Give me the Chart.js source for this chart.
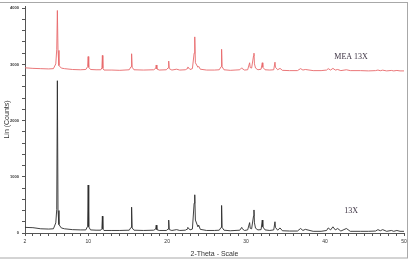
<!DOCTYPE html>
<html lang="en">
<head>
<meta charset="UTF-8">
<title>XRD 13X / MEA 13X</title>
<script src="https://cdn.jsdelivr.net/npm/chart.js"></script>
<style>
  body { margin: 0; background: #fff; }
</style>
</head>
<body>
<canvas id="xrdChart" width="412" height="261"></canvas>
<script>
// 2-theta positions (deg)
const twoTheta = [
  2.0, 3.0, 4.0, 5.0, 5.6, 5.9, 6.02, 6.1, 6.18, 6.3, 6.6, 7.0,
  8.0, 9.0, 9.7, 9.93, 10.0, 10.07, 10.3, 11.0, 11.6, 11.74, 11.8, 11.86, 12.0,
  13.0, 14.0, 15.2, 15.43, 15.5, 15.57, 15.8, 17.0, 18.3, 18.55, 18.62, 18.7, 19.0,
  19.9, 20.13, 20.2, 20.27, 20.6, 21.2, 21.6, 22.3, 22.55, 22.62, 22.9,
  23.2, 23.42, 23.5, 23.58, 23.9, 24.0, 24.2, 25.0, 26.0, 26.6, 26.84, 26.9, 26.96, 27.2,
  28.0, 29.2, 29.45, 29.52, 29.8, 30.2, 30.45, 30.52, 30.7, 30.94, 31.0, 31.06, 31.2, 31.5,
  31.9, 32.05, 32.12, 32.4, 33.0, 33.5, 33.66, 33.72, 34.0, 34.3, 34.6, 35.5,
  36.5, 36.9, 37.2, 37.5, 38.5, 39.5, 40.2, 40.4, 40.7, 41.0, 41.3, 41.6, 42.0,
  42.7, 43.2, 44.5, 45.5, 46.4, 46.7, 47.0, 47.3, 47.8, 48.4, 48.7, 49.1, 49.5, 50.0
];

// Lin (Counts) - 13X
const counts13X = [
  100, 95, 75, 70, 75, 180, 420, 2710, 400, 150, 90, 75,
  60, 55, 55, 120, 854, 110, 55, 50, 50, 80, 300, 70, 45,
  45, 45, 50, 100, 460, 90, 50, 45, 50, 70, 140, 60, 45,
  45, 70, 230, 60, 45, 60, 45, 50, 70, 100, 55,
  70, 530, 680, 230, 110, 140, 65, 45, 45, 50, 100, 490, 100, 50,
  40, 50, 100, 75, 45, 55, 185, 85, 75, 300, 410, 180, 85, 55,
  60, 230, 110, 55, 45, 55, 200, 100, 50, 90, 40, 35,
  35, 80, 45, 65, 30, 30, 45, 90, 55, 110, 55, 80, 35,
  80, 30, 30, 30, 35, 60, 40, 60, 30, 45, 30, 45, 30, 30
];

// Lin (Counts) - MEA 13X (as displayed, offset)
const countsMEA = [
  2940, 2930, 2925, 2920, 2925, 3010, 3270, 3960, 3250, 2980, 2935, 2925,
  2910, 2905, 2910, 2960, 3140, 2950, 2910, 2905, 2905, 2940, 3160, 2930, 2900,
  2900, 2895, 2905, 2960, 3190, 2950, 2905, 2900, 2905, 2930, 2990, 2920, 2900,
  2905, 2940, 3060, 2925, 2900, 2915, 2900, 2905, 2925, 2955, 2910,
  2925, 3200, 3490, 3030, 2950, 2965, 2915, 2900, 2900, 2905, 2960, 3270, 2960, 2905,
  2895, 2905, 2940, 2925, 2900, 2905, 3030, 2945, 2935, 3150, 3200, 3010, 2935, 2905,
  2915, 3030, 2950, 2905, 2900, 2905, 3040, 2950, 2905, 2930, 2895, 2890,
  2890, 2925, 2900, 2910, 2890, 2890, 2900, 2925, 2900, 2930, 2900, 2910, 2890,
  2905, 2890, 2890, 2885, 2890, 2900, 2888, 2898, 2885, 2893, 2885, 2893, 2885, 2885
];

const xLabels = [2, 10, 20, 30, 40, 50];
const yLabels = [0, 1000, 2000, 3000, 4000];
const seriesNames = ['MEA 13X', '13X'];
// where the series names sit, in data units [2theta, counts]
const namePos = [[43.3, 3140], [43.3, 390]];

const toPoints = ys => twoTheta.map((t, i) => ({ x: t, y: ys[i] }));

// frame + series names
const extras = {
  id: 'extras',
  afterDraw(chart) {
    const ctx = chart.ctx;
    const xs = chart.scales.x, ys = chart.scales.y;
    ctx.save();
    ctx.strokeStyle = '#a8a8a8';
    ctx.lineWidth = 1;
    ctx.strokeRect(-1, 2.5, 408.5, 255.5);
    ctx.fillStyle = '#3a3040';
    ctx.font = '8px "Liberation Serif", serif';
    ctx.textAlign = 'center';
    ctx.textBaseline = 'middle';
    seriesNames.forEach((n, i) => {
      ctx.fillText(n, xs.getPixelForValue(namePos[i][0]), ys.getPixelForValue(namePos[i][1]));
    });
    ctx.restore();
  }
};

new Chart(document.getElementById('xrdChart'), {
  type: 'line',
  data: {
    datasets: [
      {
        label: seriesNames[0],
        data: toPoints(countsMEA),
        borderColor: '#e8686a',
        borderWidth: 0.9,
        pointRadius: 0,
        tension: 0
      },
      {
        label: seriesNames[1],
        data: toPoints(counts13X),
        borderColor: '#2b2b2b',
        borderWidth: 0.9,
        pointRadius: 0,
        tension: 0
      }
    ]
  },
  options: {
    responsive: false,
    animation: false,
    layout: { padding: { left: 0, right: 8, top: 6, bottom: 0 } },
    plugins: {
      legend: { display: false },
      tooltip: { enabled: false }
    },
    scales: {
      x: {
        type: 'linear',
        min: 2,
        max: 50,
        afterFit: s => { s.height = 28; },
        afterBuildTicks: s => {
          const t = [];
          for (let v = 2; v <= 50; v++) t.push({ value: v });
          s.ticks = t;
        },
        border: { color: '#555', width: 1 },
        grid: { drawOnChartArea: false, tickLength: 3, color: '#555' },
        ticks: {
          autoSkip: false,
          maxRotation: 0,
          padding: 3,
          color: '#333',
          font: { size: 5, family: 'Liberation Sans' },
          callback: v => xLabels.includes(v) ? String(v) : ''
        },
        title: {
          display: true,
          text: '2-Theta - Scale',
          color: '#333',
          font: { size: 7, family: 'Liberation Sans' },
          padding: { top: 0, bottom: 3 }
        }
      },
      y: {
        min: 0,
        max: 4040,
        afterFit: s => { s.width = 25; },
        afterBuildTicks: s => {
          const t = [];
          for (let v = 0; v <= 4000; v += 200) t.push({ value: v });
          s.ticks = t;
        },
        border: { color: '#555', width: 1 },
        grid: { drawOnChartArea: false, tickLength: 3, color: '#555' },
        ticks: {
          autoSkip: false,
          padding: 3,
          color: '#333',
          font: { size: 4, family: 'Liberation Sans', weight: 'bold' },
          callback: v => yLabels.includes(v) ? String(v) : ''
        },
        title: {
          display: true,
          text: 'Lin (Counts)',
          color: '#333',
          font: { size: 7, family: 'Liberation Sans' },
          padding: { top: 3, bottom: 0 }
        }
      }
    }
  },
  plugins: [extras]
});
</script>
</body>
</html>
